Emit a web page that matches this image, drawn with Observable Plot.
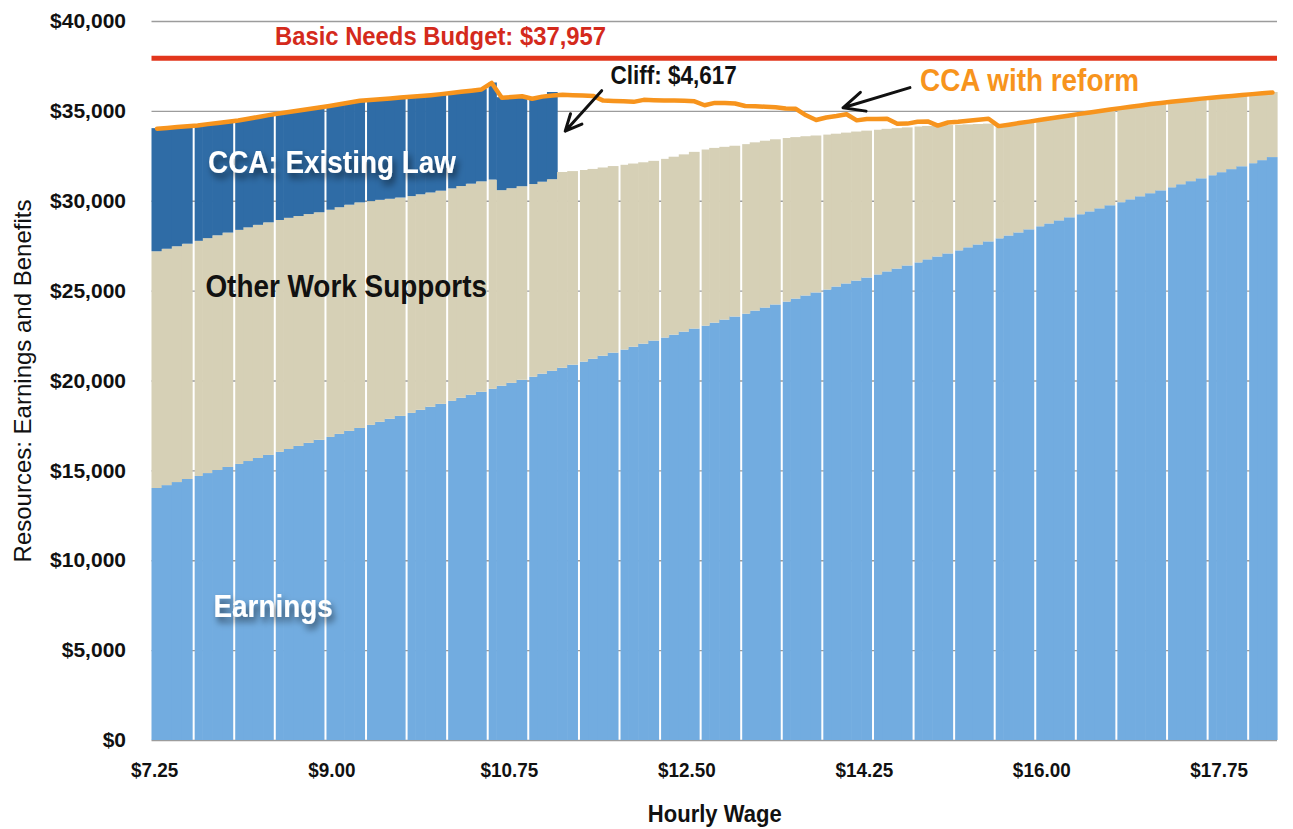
<!DOCTYPE html>
<html>
<head>
<meta charset="utf-8">
<script src="https://cdn.jsdelivr.net/npm/d3@7"></script>
<script src="https://cdn.jsdelivr.net/npm/@observablehq/plot@0.6"></script>
<style>
  html, body { margin: 0; padding: 0; background: #ffffff; }
  #chart svg { display: block; }
</style>
</head>
<body>
<div id="chart"></div>
<script>
// ---------- DATA ----------
const wages = [
  7.25,7.35,7.45,7.55,7.65,7.75,7.85,7.95,8.05,8.15,
  8.25,8.35,8.45,8.55,8.65,8.75,8.85,8.95,9.05,9.15,
  9.25,9.35,9.45,9.55,9.65,9.75,9.85,9.95,10.05,10.15,
  10.25,10.35,10.45,10.55,10.65,10.75,10.85,10.95,11.05,11.15,
  11.25,11.35,11.45,11.55,11.65,11.75,11.85,11.95,12.05,12.15,
  12.25,12.35,12.45,12.55,12.65,12.75,12.85,12.95,13.05,13.15,
  13.25,13.35,13.45,13.55,13.65,13.75,13.85,13.95,14.05,14.15,
  14.25,14.35,14.45,14.55,14.65,14.75,14.85,14.95,15.05,15.15,
  15.25,15.35,15.45,15.55,15.65,15.75,15.85,15.95,16.05,16.15,
  16.25,16.35,16.45,16.55,16.65,16.75,16.85,16.95,17.05,17.15,
  17.25,17.35,17.45,17.55,17.65,17.75,17.85,17.95,18.05,18.15,
  18.25
];

const earnings = [
  14020,14180,14350,14520,14690,14850,15020,15190,15360,15520,
  15690,15860,16030,16190,16360,16530,16700,16860,17030,17200,
  17360,17530,17700,17870,18030,18200,18370,18540,18700,18870,
  19040,19210,19370,19540,19710,19870,20040,20210,20380,20540,
  20710,20880,21050,21210,21380,21550,21720,21880,22050,22220,
  22390,22550,22720,22890,23050,23220,23390,23560,23720,23890,
  24060,24230,24390,24560,24730,24900,25060,25230,25400,25560,
  25730,25900,26070,26230,26400,26570,26740,26900,27070,27240,
  27410,27570,27740,27910,28070,28240,28410,28580,28740,28910,
  29080,29250,29410,29580,29750,29920,30080,30250,30420,30580,
  30750,30920,31090,31250,31420,31590,31760,31920,32090,32260,
  32430
];

const otherWorkSupports = [
  13170,13150,13120,13090,13080,13070,13060,13040,13020,13000,
  12970,12940,12900,12860,12790,12730,12660,12640,12610,12580,
  12550,12450,12350,12240,12150,12060,11990,11920,11860,11820,
  11780,11740,11710,11640,10880,10830,10770,10720,10680,10660,
  10890,10770,10660,10560,10470,10380,10280,10190,10090,10000,
  9940,9900,9860,9830,9800,9720,9610,9500,9430,9360,
  9280,9190,9100,8980,8860,8730,8620,8500,8390,8290,
  8170,8050,7930,7810,7680,7560,7420,7290,7140,6990,
  6840,6700,6550,6270,6190,6110,6020,5940,5860,5780,
  5690,5610,5530,5440,5350,5260,5180,5080,4990,4890,
  4780,4670,4560,4460,4340,4220,4100,3990,3870,3750,
  3620
];

// Child Care Assistance under existing law (ends after $11.15/hour: the cliff)
const ccaExistingLaw = [
  6850,6750,6660,6560,6450,6370,6270,6190,6110,6070,
  6030,5990,5950,5910,5900,5870,5850,5800,5760,5710,
  5680,5650,5630,5610,5590,5550,5490,5440,5400,5330,
  5270,5200,5140,5400,5170,5100,5030,4770,4760,4850
];

// Total resources with CCA reform (orange line)
const totalWithReform = [
  34040,34080,34130,34170,34220,34290,34350,34420,34490,34590,
  34690,34790,34880,34960,35050,35130,35210,35300,35400,35490,
  35590,35630,35680,35720,35770,35810,35850,35900,35960,36020,
  36090,36150,36220,36580,35760,35800,35840,35700,35820,35880,
  35920,35900,35880,35860,35600,35580,35560,35530,35640,35620,
  35610,35600,35590,35560,35340,35470,35460,35440,35300,35280,
  35260,35230,35160,35140,34780,34520,34660,34740,34840,34500,
  34570,34580,34590,34310,34320,34420,34440,34210,34380,34420,
  34480,34540,34590,34180,34260,34350,34430,34520,34600,34690,
  34770,34860,34940,35020,35100,35180,35260,35330,35410,35470,
  35530,35590,35650,35710,35760,35810,35860,35910,35960,36010,
  36050
];

const basicNeedsBudget = 37957;

const xTicks = [7.25, 9.00, 10.75, 12.50, 14.25, 16.00, 17.75];
const xTickLabels = ["$7.25", "$9.00", "$10.75", "$12.50", "$14.25", "$16.00", "$17.75"];
const yTicks = [0, 5000, 10000, 15000, 20000, 25000, 30000, 35000, 40000];
const yTickLabels = ["$0", "$5,000", "$10,000", "$15,000", "$20,000", "$25,000", "$30,000", "$35,000", "$40,000"];

const seriesNames = ["Earnings", "Other Work Supports", "CCA: Existing Law"];
const seriesColors = ["#72ace0", "#d6d0b6", "#2f6ca6"];

// annotation texts (positions in data units)
const labels = [
  {text: "Basic Needs Budget: $37,957", x: 10.07, y: 39150, fill: "#d42a1c", size: 26.5},
  {text: "Cliff: $4,617", x: 12.37, y: 36990, fill: "#111111", size: 25},
  {text: "CCA with reform", x: 15.88, y: 36700, fill: "#f7941d", size: 31},
  {text: "CCA: Existing Law", x: 9.0, y: 32150, fill: "#ffffff", size: 31},
  {text: "Other Work Supports", x: 9.14, y: 25200, fill: "#111111", size: 31},
  {text: "Earnings", x: 8.42, y: 7400, fill: "#ffffff", size: 31}
];
const arrows = [
  {x1: 11.66, y1: 36150, x2: 11.30, y2: 33900},
  {x1: 14.70, y1: 36320, x2: 14.04, y2: 35200}
];

// ---------- BUILD TABLES ----------
const step = 0.1;
const gapEvery = 4.15; // visual white separators between bar groups
const gapIndex = new Set(d3.range(1, 30).map(k => Math.round(k * gapEvery)));

const rows = [];
wages.forEach((w, i) => {
  const parts = [earnings[i], otherWorkSupports[i], ccaExistingLaw[i] || 0];
  let base = 0;
  parts.forEach((v, s) => {
    if (v > 0) {
      rows.push({x1: w - step / 4, x2: w + step * 3 / 4, y1: base, y2: base + v,
                 series: seriesNames[s], gap: gapIndex.has(i)});
    }
    base += v;
  });
});
const reformLine = wages.map((w, i) => ({x: w + step / 4, y: totalWithReform[i]}));

const font = "'Liberation Sans', Arial, Helvetica, sans-serif";

const chart = Plot.plot({
  width: 1293,
  height: 829,
  marginLeft: 151.5,
  marginRight: 16,
  marginTop: 21,
  marginBottom: 89,
  style: {fontFamily: font, background: "#ffffff", overflow: "visible"},
  x: {domain: [7.225, 18.325]},
  y: {domain: [0, 40000]},
  color: {domain: seriesNames, range: seriesColors},
  marks: [
    Plot.gridY(yTicks, {stroke: "#9c9c9c", strokeOpacity: 1, strokeWidth: 1.4}),
    Plot.rectY(rows.filter(d => !d.gap), {x1: "x1", x2: "x2", y1: "y1", y2: "y2", fill: "series", insetRight: -0.6}),
    Plot.rectY(rows.filter(d => d.gap), {x1: "x1", x2: "x2", y1: "y1", y2: "y2", fill: "series", insetLeft: 2.6, insetRight: -0.6}),
    Plot.ruleY([basicNeedsBudget], {stroke: "#e2361c", strokeWidth: 5}),
    Plot.line(reformLine, {x: "x", y: "y", stroke: "#f7941d", strokeWidth: 4.5, strokeLinejoin: "round"}),
    Plot.arrow(arrows, {x1: "x1", y1: "y1", x2: "x2", y2: "y2", stroke: "#111111", strokeWidth: 3, headLength: 14, headAngle: 50}),
    Plot.text(labels, {x: "x", y: "y", text: "text", fill: "fill", fontSize: d => d.size, fontWeight: "bold"}),
    Plot.axisY(yTicks, {tickSize: 0, tickPadding: 26, fontSize: 21, fontWeight: "bold", fill: "#111",
      tickFormat: d => yTickLabels[yTicks.indexOf(d)], label: null}),
    Plot.axisX(xTicks, {tickSize: 0, tickPadding: 22, fontSize: 21, fontWeight: "bold", fill: "#111",
      tickFormat: d => xTickLabels[xTicks.indexOf(d)], label: null}),
    Plot.text(["Hourly Wage"], {frameAnchor: "bottom", dy: 81, fontSize: 24.5, fontWeight: "bold", fill: "#111"}),
    Plot.text(["Resources: Earnings and Benefits"], {frameAnchor: "left", textAnchor: "middle", rotate: -90, dx: -129, fontSize: 24, fill: "#111"})
  ]
});

document.getElementById("chart").append(chart);

const svg = d3.select(chart);
// condensed look (no narrow font installed): squeeze glyphs horizontally
const condensed = new Set([...labels.map(d => d.text), ...xTickLabels, "Hourly Wage"]);
svg.selectAll("text")
  .filter(function () { return condensed.has(this.textContent); })
  .attr("transform", function () { return (this.getAttribute("transform") || "") + " scale(0.9,1)"; });

// soft drop shadows on the white labels
svg.insert("defs", ":first-child").html(
  '<filter id="txtShadow" x="-20%" y="-60%" width="150%" height="250%">' +
  '<feDropShadow dx="3" dy="5" stdDeviation="3.5" flood-color="#000" flood-opacity="0.55"/></filter>');
svg.selectAll("text")
  .filter(function () { return this.textContent === "CCA: Existing Law" || this.textContent === "Earnings"; })
  .attr("filter", "url(#txtShadow)");
</script>
</body>
</html>
